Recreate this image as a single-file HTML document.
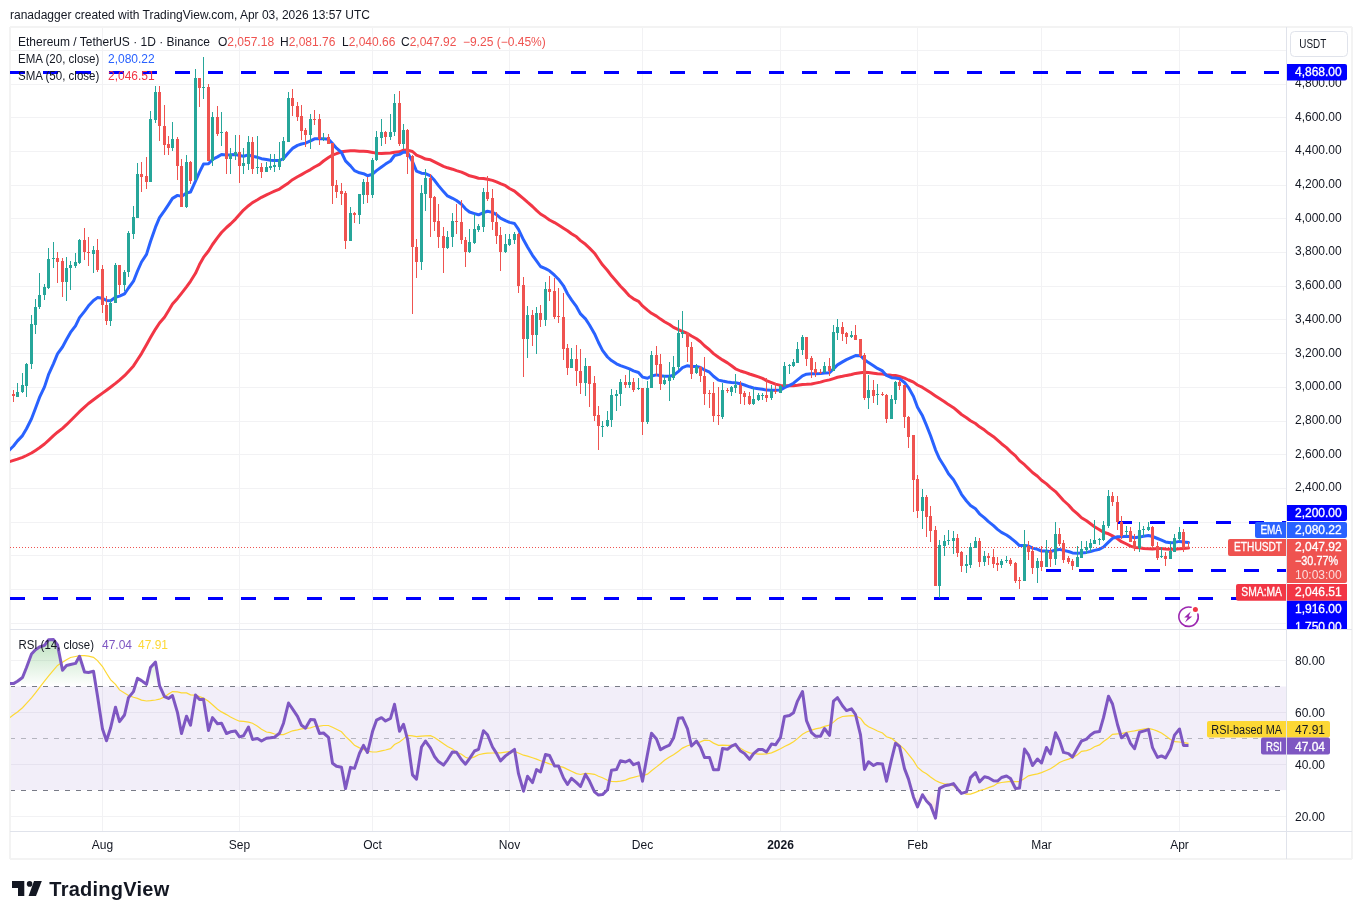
<!DOCTYPE html><html><head><meta charset="utf-8"><style>html,body{margin:0;padding:0;background:#fff;}body{width:1362px;height:919px;overflow:hidden;}svg{display:block;font-family:"Liberation Sans",sans-serif;will-change:transform;}</style></head><body><svg width="1362" height="919" viewBox="0 0 1362 919"><defs><clipPath id="mainclip"><rect x="10" y="27" width="1276" height="602"/></clipPath><clipPath id="axclip"><rect x="1287" y="27" width="65" height="602"/></clipPath><clipPath id="rsiclip"><rect x="10" y="630" width="1276" height="201"/></clipPath><linearGradient id="obg" gradientUnits="userSpaceOnUse" x1="0" y1="608.8" x2="0" y2="686.5"><stop offset="0" stop-color="#4caf50" stop-opacity="0.6"/><stop offset="1" stop-color="#4caf50" stop-opacity="0"/></linearGradient><linearGradient id="osg" gradientUnits="userSpaceOnUse" x1="0" y1="868" x2="0" y2="790.4"><stop offset="0" stop-color="#f23645" stop-opacity="0.6"/><stop offset="1" stop-color="#f23645" stop-opacity="0"/></linearGradient></defs><text x="10" y="19" font-size="12" fill="#131722">ranadagger created with TradingView.com, Apr 03, 2026 13:57 UTC</text><rect x="10" y="27" width="1342" height="832" fill="#fff"/><rect x="10" y="623" width="1276" height="1" fill="#f2f2f4"/><rect x="10" y="589" width="1276" height="1" fill="#f2f2f4"/><rect x="10" y="555" width="1276" height="1" fill="#f2f2f4"/><rect x="10" y="522" width="1276" height="1" fill="#f2f2f4"/><rect x="10" y="488" width="1276" height="1" fill="#f2f2f4"/><rect x="10" y="454" width="1276" height="1" fill="#f2f2f4"/><rect x="10" y="421" width="1276" height="1" fill="#f2f2f4"/><rect x="10" y="387" width="1276" height="1" fill="#f2f2f4"/><rect x="10" y="353" width="1276" height="1" fill="#f2f2f4"/><rect x="10" y="319" width="1276" height="1" fill="#f2f2f4"/><rect x="10" y="286" width="1276" height="1" fill="#f2f2f4"/><rect x="10" y="252" width="1276" height="1" fill="#f2f2f4"/><rect x="10" y="218" width="1276" height="1" fill="#f2f2f4"/><rect x="10" y="185" width="1276" height="1" fill="#f2f2f4"/><rect x="10" y="151" width="1276" height="1" fill="#f2f2f4"/><rect x="10" y="117" width="1276" height="1" fill="#f2f2f4"/><rect x="10" y="84" width="1276" height="1" fill="#f2f2f4"/><rect x="10" y="50" width="1276" height="1" fill="#f2f2f4"/><rect x="102" y="27" width="1" height="804" fill="#f2f2f4"/><rect x="239" y="27" width="1" height="804" fill="#f2f2f4"/><rect x="372" y="27" width="1" height="804" fill="#f2f2f4"/><rect x="509" y="27" width="1" height="804" fill="#f2f2f4"/><rect x="642" y="27" width="1" height="804" fill="#f2f2f4"/><rect x="780" y="27" width="1" height="804" fill="#f2f2f4"/><rect x="917" y="27" width="1" height="804" fill="#f2f2f4"/><rect x="1041" y="27" width="1" height="804" fill="#f2f2f4"/><rect x="1179" y="27" width="1" height="804" fill="#f2f2f4"/><rect x="10" y="816" width="1276" height="1" fill="#f2f2f4"/><rect x="10" y="764" width="1276" height="1" fill="#f2f2f4"/><rect x="10" y="712" width="1276" height="1" fill="#f2f2f4"/><rect x="10" y="660" width="1276" height="1" fill="#f2f2f4"/><rect x="10" y="686.5" width="1276" height="103.6" fill="#7e57c2" fill-opacity="0.1"/><line x1="10" y1="686.5" x2="1286" y2="686.5" stroke="#787b86" stroke-opacity="1" stroke-width="1" stroke-dasharray="5 6"/><line x1="10" y1="738.5" x2="1286" y2="738.5" stroke="#787b86" stroke-opacity="0.5" stroke-width="1" stroke-dasharray="5 6"/><line x1="10" y1="790.5" x2="1286" y2="790.5" stroke="#787b86" stroke-opacity="1" stroke-width="1" stroke-dasharray="5 6"/><g shape-rendering="crispEdges"><rect x="10" y="27" width="1342" height="832" rx="2" fill="none" stroke="#f3f3f3" stroke-width="2"/><rect x="1286" y="27" width="1" height="832" fill="#e0e3eb"/><rect x="10" y="629" width="1342" height="1" fill="#e0e3eb"/><rect x="10" y="831" width="1342" height="1" fill="#e0e3eb"/></g><g clip-path="url(#mainclip)"><polyline points="8,462.2 13.5,460.4 17.5,459.1 22.5,457.3 26.5,455.5 31.5,453.0 35.5,450.4 39.5,447.7 44.5,444.0 48.5,440.3 53.5,435.6 57.5,432.2 62.5,428.4 66.5,424.7 70.5,420.7 75.5,415.7 79.5,411.7 84.5,407.1 88.5,403.5 93.5,399.7 97.5,396.8 102.5,393.1 106.5,390.2 110.5,387.2 115.5,383.4 119.5,380.1 124.5,375.7 128.5,371.4 133.5,365.9 137.5,359.8 141.5,353.6 146.5,344.7 150.5,337.6 155.5,329.1 159.5,323.0 164.5,317.2 168.5,310.8 172.5,304.1 177.5,298.4 181.5,293.4 186.5,286.9 190.5,281.3 195.5,273.3 199.5,264.6 203.5,257.4 208.5,251.0 212.5,244.5 217.5,237.6 221.5,232.5 226.5,227.5 230.5,224.0 235.5,219.1 239.5,214.5 243.5,210.1 248.5,205.7 252.5,202.6 257.5,199.8 261.5,197.3 266.5,194.9 270.5,193.0 274.5,191.2 279.5,189.1 283.5,186.3 288.5,182.9 292.5,179.7 297.5,176.8 301.5,174.6 305.5,172.3 310.5,169.6 314.5,167.0 319.5,164.4 323.5,161.0 328.5,157.5 332.5,155.1 336.5,153.7 341.5,151.8 345.5,151.2 350.5,150.8 354.5,150.8 359.5,151.2 363.5,151.3 367.5,151.6 372.5,152.4 376.5,153.3 381.5,153.4 385.5,153.2 390.5,152.9 394.5,152.2 399.5,151.8 403.5,150.2 407.5,150.1 412.5,151.5 416.5,155.1 421.5,157.2 425.5,159.1 430.5,159.8 434.5,161.9 438.5,163.9 443.5,166.3 447.5,167.8 452.5,169.2 456.5,170.6 461.5,172.1 465.5,173.9 469.5,175.8 474.5,177.0 478.5,178.2 483.5,178.6 487.5,179.3 492.5,180.4 496.5,181.8 500.5,183.6 505.5,185.7 509.5,188.5 514.5,191.1 518.5,194.5 523.5,198.6 527.5,202.2 532.5,206.5 536.5,210.4 540.5,214.0 545.5,217.1 549.5,220.0 554.5,222.6 558.5,225.1 563.5,228.3 567.5,230.8 571.5,233.7 576.5,236.8 580.5,240.6 585.5,244.3 589.5,248.1 594.5,253.2 598.5,259.0 602.5,264.8 607.5,270.5 611.5,275.8 616.5,281.6 620.5,286.3 625.5,291.4 629.5,295.9 633.5,298.8 638.5,301.3 642.5,305.9 647.5,310.1 651.5,313.3 656.5,316.1 660.5,319.1 664.5,321.7 669.5,324.5 673.5,327.4 678.5,329.6 682.5,331.5 687.5,333.4 691.5,336.0 696.5,338.8 700.5,341.8 704.5,345.8 709.5,349.7 713.5,353.6 718.5,357.2 722.5,359.9 727.5,362.9 731.5,365.8 735.5,368.8 740.5,371.0 744.5,372.2 749.5,374.0 753.5,375.3 758.5,376.9 762.5,378.4 766.5,380.6 771.5,382.6 775.5,384.1 780.5,385.4 784.5,385.8 789.5,385.7 793.5,385.8 797.5,385.3 802.5,384.4 806.5,384.3 811.5,384.0 815.5,383.1 820.5,382.1 824.5,380.9 829.5,379.9 833.5,378.6 837.5,377.3 842.5,376.3 846.5,375.4 851.5,374.5 855.5,373.4 860.5,372.8 864.5,372.3 868.5,372.4 873.5,373.2 877.5,373.8 882.5,374.0 886.5,374.7 891.5,375.2 895.5,375.5 899.5,376.5 904.5,378.2 908.5,380.0 913.5,382.1 917.5,385.0 922.5,387.4 926.5,389.9 930.5,392.6 935.5,396.0 939.5,398.6 944.5,401.7 948.5,404.6 953.5,407.7 957.5,411.0 961.5,414.5 966.5,417.8 970.5,420.7 975.5,423.5 979.5,426.8 984.5,430.1 988.5,433.3 993.5,436.7 997.5,440.2 1001.5,443.7 1006.5,447.6 1010.5,451.6 1015.5,455.9 1019.5,460.6 1024.5,464.7 1028.5,468.6 1032.5,472.5 1037.5,476.3 1041.5,480.2 1046.5,483.9 1050.5,487.6 1055.5,491.6 1059.5,496.0 1063.5,500.5 1068.5,505.0 1072.5,509.6 1077.5,513.9 1081.5,517.8 1086.5,520.8 1090.5,523.8 1094.5,526.7 1099.5,529.7 1103.5,532.3 1108.5,533.8 1112.5,535.9 1117.5,538.7 1121.5,541.7 1126.5,544.0 1130.5,546.1 1134.5,547.4 1139.5,547.8 1143.5,548.5 1148.5,548.7 1152.5,549.0 1157.5,548.4 1161.5,548.6 1165.5,549.0 1170.5,549.2 1174.5,549.2 1179.5,548.8 1183.5,548.4 1188.5,548.1" fill="none" stroke="#f23645" stroke-width="3" stroke-linejoin="round" stroke-linecap="round"/><polyline points="8,451.5 13.5,446.0 17.5,440.9 22.5,435.6 26.5,428.7 31.5,418.8 35.5,408.2 39.5,397.4 44.5,386.9 48.5,374.7 53.5,363.6 57.5,353.9 62.5,347.0 66.5,339.5 70.5,332.4 75.5,325.8 79.5,317.6 84.5,311.4 88.5,305.8 93.5,300.5 97.5,297.6 102.5,298.3 106.5,300.5 110.5,300.7 115.5,297.3 119.5,296.1 124.5,293.8 128.5,288.0 133.5,281.2 137.5,271.0 141.5,262.0 146.5,254.4 150.5,241.5 155.5,227.2 159.5,217.6 164.5,210.6 168.5,204.6 172.5,198.4 177.5,195.4 181.5,196.4 186.5,193.1 190.5,192.0 195.5,181.1 199.5,172.2 203.5,164.1 208.5,163.8 212.5,159.4 217.5,156.9 221.5,154.5 226.5,154.9 230.5,154.8 235.5,154.5 239.5,155.6 243.5,156.2 248.5,154.9 252.5,156.3 257.5,157.3 261.5,158.7 266.5,159.5 270.5,160.2 274.5,160.6 279.5,160.5 283.5,158.6 288.5,152.8 292.5,148.4 297.5,145.4 301.5,144.0 305.5,143.1 310.5,140.9 314.5,138.8 319.5,138.8 323.5,138.7 328.5,139.2 332.5,143.6 336.5,148.2 341.5,152.5 345.5,160.9 350.5,165.9 354.5,170.6 359.5,172.8 363.5,173.7 367.5,175.7 372.5,174.2 376.5,170.6 381.5,167.0 385.5,164.1 390.5,161.0 394.5,155.5 399.5,154.4 403.5,152.1 407.5,152.5 412.5,161.6 416.5,171.1 421.5,173.2 425.5,173.6 430.5,175.9 434.5,180.3 438.5,185.6 443.5,191.6 447.5,195.9 452.5,198.3 456.5,200.5 461.5,204.3 465.5,208.8 469.5,212.0 474.5,213.6 478.5,214.8 483.5,212.6 487.5,211.3 492.5,212.4 496.5,214.6 500.5,218.1 505.5,220.6 509.5,222.4 514.5,223.5 518.5,229.4 523.5,239.8 527.5,247.0 532.5,255.3 536.5,260.8 540.5,266.5 545.5,268.6 549.5,270.8 554.5,275.2 558.5,279.2 563.5,285.8 567.5,293.7 571.5,299.9 576.5,306.7 580.5,313.9 585.5,318.9 589.5,325.0 594.5,333.7 598.5,342.5 602.5,350.4 607.5,357.0 611.5,360.6 616.5,363.8 620.5,365.6 625.5,367.4 629.5,368.8 633.5,370.8 638.5,372.5 642.5,377.1 647.5,378.2 651.5,376.0 656.5,374.9 660.5,375.8 664.5,376.2 669.5,376.2 673.5,375.3 678.5,371.3 682.5,367.6 687.5,365.7 691.5,366.5 696.5,366.5 700.5,367.4 704.5,369.9 709.5,372.2 713.5,376.3 718.5,380.1 722.5,381.0 727.5,381.9 731.5,382.4 735.5,382.7 740.5,383.7 744.5,385.0 749.5,386.8 753.5,388.0 758.5,388.7 762.5,389.3 766.5,390.1 771.5,390.2 775.5,390.3 780.5,389.9 784.5,387.6 789.5,385.4 793.5,383.2 797.5,379.9 802.5,375.9 806.5,374.2 811.5,373.8 815.5,373.7 820.5,373.6 824.5,372.9 829.5,372.7 833.5,368.9 837.5,364.9 842.5,361.9 846.5,359.6 851.5,357.3 855.5,355.6 860.5,355.7 864.5,359.7 868.5,362.6 873.5,365.7 877.5,368.4 882.5,370.9 886.5,375.4 891.5,377.7 895.5,378.1 899.5,378.8 904.5,382.5 908.5,387.6 913.5,396.4 917.5,407.3 922.5,415.8 926.5,425.4 930.5,435.5 935.5,449.8 939.5,458.8 944.5,466.7 948.5,473.7 953.5,479.8 957.5,486.8 961.5,494.3 966.5,501.0 970.5,505.4 975.5,508.8 979.5,513.8 984.5,517.9 988.5,521.7 993.5,525.7 997.5,529.4 1001.5,532.4 1006.5,535.0 1010.5,537.8 1015.5,541.9 1019.5,545.6 1024.5,545.4 1028.5,546.0 1032.5,548.1 1037.5,549.3 1041.5,551.0 1046.5,550.9 1050.5,551.7 1055.5,550.0 1059.5,549.4 1063.5,550.4 1068.5,551.5 1072.5,552.9 1077.5,553.3 1081.5,552.9 1086.5,552.4 1090.5,551.5 1094.5,550.4 1099.5,549.3 1103.5,547.0 1108.5,542.2 1112.5,538.4 1117.5,536.8 1121.5,536.7 1126.5,536.2 1130.5,536.7 1134.5,537.8 1139.5,537.1 1143.5,536.3 1148.5,535.5 1152.5,536.5 1157.5,538.5 1161.5,540.2 1165.5,541.9 1170.5,542.8 1174.5,542.4 1179.5,541.4 1183.5,542.0 1188.5,542.6" fill="none" stroke="#2962ff" stroke-width="3" stroke-linejoin="round" stroke-linecap="round"/></g><g clip-path="url(#mainclip)" shape-rendering="crispEdges"><rect x="10" y="71" width="15" height="3" fill="#0000ff"/><rect x="43" y="71" width="15" height="3" fill="#0000ff"/><rect x="76" y="71" width="15" height="3" fill="#0000ff"/><rect x="109" y="71" width="15" height="3" fill="#0000ff"/><rect x="142" y="71" width="15" height="3" fill="#0000ff"/><rect x="175" y="71" width="15" height="3" fill="#0000ff"/><rect x="208" y="71" width="15" height="3" fill="#0000ff"/><rect x="241" y="71" width="15" height="3" fill="#0000ff"/><rect x="274" y="71" width="15" height="3" fill="#0000ff"/><rect x="307" y="71" width="15" height="3" fill="#0000ff"/><rect x="340" y="71" width="15" height="3" fill="#0000ff"/><rect x="373" y="71" width="15" height="3" fill="#0000ff"/><rect x="406" y="71" width="15" height="3" fill="#0000ff"/><rect x="439" y="71" width="15" height="3" fill="#0000ff"/><rect x="472" y="71" width="15" height="3" fill="#0000ff"/><rect x="505" y="71" width="15" height="3" fill="#0000ff"/><rect x="538" y="71" width="15" height="3" fill="#0000ff"/><rect x="571" y="71" width="15" height="3" fill="#0000ff"/><rect x="604" y="71" width="15" height="3" fill="#0000ff"/><rect x="637" y="71" width="15" height="3" fill="#0000ff"/><rect x="670" y="71" width="15" height="3" fill="#0000ff"/><rect x="703" y="71" width="15" height="3" fill="#0000ff"/><rect x="736" y="71" width="15" height="3" fill="#0000ff"/><rect x="769" y="71" width="15" height="3" fill="#0000ff"/><rect x="802" y="71" width="15" height="3" fill="#0000ff"/><rect x="835" y="71" width="15" height="3" fill="#0000ff"/><rect x="868" y="71" width="15" height="3" fill="#0000ff"/><rect x="901" y="71" width="15" height="3" fill="#0000ff"/><rect x="934" y="71" width="15" height="3" fill="#0000ff"/><rect x="967" y="71" width="15" height="3" fill="#0000ff"/><rect x="1000" y="71" width="15" height="3" fill="#0000ff"/><rect x="1033" y="71" width="15" height="3" fill="#0000ff"/><rect x="1066" y="71" width="15" height="3" fill="#0000ff"/><rect x="1099" y="71" width="15" height="3" fill="#0000ff"/><rect x="1132" y="71" width="15" height="3" fill="#0000ff"/><rect x="1165" y="71" width="15" height="3" fill="#0000ff"/><rect x="1198" y="71" width="15" height="3" fill="#0000ff"/><rect x="1231" y="71" width="15" height="3" fill="#0000ff"/><rect x="1264" y="71" width="15" height="3" fill="#0000ff"/><rect x="1117" y="521" width="15" height="3" fill="#0000ff"/><rect x="1150" y="521" width="15" height="3" fill="#0000ff"/><rect x="1183" y="521" width="15" height="3" fill="#0000ff"/><rect x="1216" y="521" width="15" height="3" fill="#0000ff"/><rect x="1249" y="521" width="15" height="3" fill="#0000ff"/><rect x="1282" y="521" width="4" height="3" fill="#0000ff"/><rect x="1046" y="569" width="15" height="3" fill="#0000ff"/><rect x="1079" y="569" width="15" height="3" fill="#0000ff"/><rect x="1112" y="569" width="15" height="3" fill="#0000ff"/><rect x="1145" y="569" width="15" height="3" fill="#0000ff"/><rect x="1178" y="569" width="15" height="3" fill="#0000ff"/><rect x="1211" y="569" width="15" height="3" fill="#0000ff"/><rect x="1244" y="569" width="15" height="3" fill="#0000ff"/><rect x="1277" y="569" width="9" height="3" fill="#0000ff"/><rect x="10" y="597" width="15" height="3" fill="#0000ff"/><rect x="43" y="597" width="15" height="3" fill="#0000ff"/><rect x="76" y="597" width="15" height="3" fill="#0000ff"/><rect x="109" y="597" width="15" height="3" fill="#0000ff"/><rect x="142" y="597" width="15" height="3" fill="#0000ff"/><rect x="175" y="597" width="15" height="3" fill="#0000ff"/><rect x="208" y="597" width="15" height="3" fill="#0000ff"/><rect x="241" y="597" width="15" height="3" fill="#0000ff"/><rect x="274" y="597" width="15" height="3" fill="#0000ff"/><rect x="307" y="597" width="15" height="3" fill="#0000ff"/><rect x="340" y="597" width="15" height="3" fill="#0000ff"/><rect x="373" y="597" width="15" height="3" fill="#0000ff"/><rect x="406" y="597" width="15" height="3" fill="#0000ff"/><rect x="439" y="597" width="15" height="3" fill="#0000ff"/><rect x="472" y="597" width="15" height="3" fill="#0000ff"/><rect x="505" y="597" width="15" height="3" fill="#0000ff"/><rect x="538" y="597" width="15" height="3" fill="#0000ff"/><rect x="571" y="597" width="15" height="3" fill="#0000ff"/><rect x="604" y="597" width="15" height="3" fill="#0000ff"/><rect x="637" y="597" width="15" height="3" fill="#0000ff"/><rect x="670" y="597" width="15" height="3" fill="#0000ff"/><rect x="703" y="597" width="15" height="3" fill="#0000ff"/><rect x="736" y="597" width="15" height="3" fill="#0000ff"/><rect x="769" y="597" width="15" height="3" fill="#0000ff"/><rect x="802" y="597" width="15" height="3" fill="#0000ff"/><rect x="835" y="597" width="15" height="3" fill="#0000ff"/><rect x="868" y="597" width="15" height="3" fill="#0000ff"/><rect x="901" y="597" width="15" height="3" fill="#0000ff"/><rect x="934" y="597" width="15" height="3" fill="#0000ff"/><rect x="967" y="597" width="15" height="3" fill="#0000ff"/><rect x="1000" y="597" width="15" height="3" fill="#0000ff"/><rect x="1033" y="597" width="15" height="3" fill="#0000ff"/><rect x="1066" y="597" width="15" height="3" fill="#0000ff"/><rect x="1099" y="597" width="15" height="3" fill="#0000ff"/><rect x="1132" y="597" width="15" height="3" fill="#0000ff"/><rect x="1165" y="597" width="15" height="3" fill="#0000ff"/><rect x="1198" y="597" width="15" height="3" fill="#0000ff"/><rect x="1231" y="597" width="15" height="3" fill="#0000ff"/><rect x="1264" y="597" width="15" height="3" fill="#0000ff"/></g><line x1="10" y1="547.5" x2="1286" y2="547.5" stroke="#ef5350" stroke-width="1" stroke-dasharray="1 2" shape-rendering="crispEdges"/><g clip-path="url(#mainclip)" shape-rendering="crispEdges"><rect x="13" y="390" width="1" height="12" fill="#ef5350"/><rect x="12" y="394" width="3" height="2" fill="#ef5350"/><rect x="17" y="383" width="1" height="14" fill="#26a69a"/><rect x="16" y="392" width="3" height="5" fill="#26a69a"/><rect x="22" y="373" width="1" height="20" fill="#26a69a"/><rect x="21" y="385" width="3" height="7" fill="#26a69a"/><rect x="26" y="363" width="1" height="34" fill="#26a69a"/><rect x="25" y="364" width="3" height="22" fill="#26a69a"/><rect x="31" y="315" width="1" height="54" fill="#26a69a"/><rect x="30" y="324" width="3" height="40" fill="#26a69a"/><rect x="35" y="299" width="1" height="35" fill="#26a69a"/><rect x="34" y="307" width="3" height="18" fill="#26a69a"/><rect x="39" y="273" width="1" height="36" fill="#26a69a"/><rect x="38" y="295" width="3" height="12" fill="#26a69a"/><rect x="44" y="284" width="1" height="16" fill="#26a69a"/><rect x="43" y="287" width="3" height="8" fill="#26a69a"/><rect x="48" y="248" width="1" height="41" fill="#26a69a"/><rect x="47" y="259" width="3" height="29" fill="#26a69a"/><rect x="53" y="242" width="1" height="26" fill="#26a69a"/><rect x="52" y="258" width="3" height="1" fill="#26a69a"/><rect x="57" y="252" width="1" height="31" fill="#ef5350"/><rect x="56" y="258" width="3" height="4" fill="#ef5350"/><rect x="62" y="258" width="1" height="39" fill="#ef5350"/><rect x="61" y="261" width="3" height="21" fill="#ef5350"/><rect x="66" y="257" width="1" height="44" fill="#26a69a"/><rect x="65" y="268" width="3" height="14" fill="#26a69a"/><rect x="70" y="261" width="1" height="29" fill="#26a69a"/><rect x="69" y="265" width="3" height="3" fill="#26a69a"/><rect x="75" y="253" width="1" height="15" fill="#26a69a"/><rect x="74" y="262" width="3" height="4" fill="#26a69a"/><rect x="79" y="239" width="1" height="25" fill="#26a69a"/><rect x="78" y="240" width="3" height="23" fill="#26a69a"/><rect x="84" y="228" width="1" height="32" fill="#ef5350"/><rect x="83" y="240" width="3" height="12" fill="#ef5350"/><rect x="88" y="237" width="1" height="29" fill="#ef5350"/><rect x="87" y="252" width="3" height="1" fill="#ef5350"/><rect x="93" y="246" width="1" height="27" fill="#26a69a"/><rect x="92" y="250" width="3" height="4" fill="#26a69a"/><rect x="97" y="239" width="1" height="33" fill="#ef5350"/><rect x="96" y="250" width="3" height="20" fill="#ef5350"/><rect x="102" y="265" width="1" height="48" fill="#ef5350"/><rect x="101" y="269" width="3" height="36" fill="#ef5350"/><rect x="106" y="296" width="1" height="29" fill="#ef5350"/><rect x="105" y="305" width="3" height="16" fill="#ef5350"/><rect x="110" y="299" width="1" height="27" fill="#26a69a"/><rect x="109" y="303" width="3" height="18" fill="#26a69a"/><rect x="115" y="263" width="1" height="40" fill="#26a69a"/><rect x="114" y="265" width="3" height="38" fill="#26a69a"/><rect x="119" y="265" width="1" height="29" fill="#ef5350"/><rect x="118" y="265" width="3" height="20" fill="#ef5350"/><rect x="124" y="270" width="1" height="21" fill="#26a69a"/><rect x="123" y="272" width="3" height="13" fill="#26a69a"/><rect x="128" y="231" width="1" height="46" fill="#26a69a"/><rect x="127" y="233" width="3" height="39" fill="#26a69a"/><rect x="133" y="206" width="1" height="33" fill="#26a69a"/><rect x="132" y="217" width="3" height="17" fill="#26a69a"/><rect x="137" y="163" width="1" height="55" fill="#26a69a"/><rect x="136" y="174" width="3" height="44" fill="#26a69a"/><rect x="141" y="162" width="1" height="30" fill="#ef5350"/><rect x="140" y="174" width="3" height="3" fill="#ef5350"/><rect x="146" y="157" width="1" height="32" fill="#ef5350"/><rect x="145" y="176" width="3" height="6" fill="#ef5350"/><rect x="150" y="111" width="1" height="71" fill="#26a69a"/><rect x="149" y="119" width="3" height="63" fill="#26a69a"/><rect x="155" y="86" width="1" height="37" fill="#26a69a"/><rect x="154" y="92" width="3" height="28" fill="#26a69a"/><rect x="159" y="86" width="1" height="55" fill="#ef5350"/><rect x="158" y="92" width="3" height="34" fill="#ef5350"/><rect x="164" y="105" width="1" height="50" fill="#ef5350"/><rect x="163" y="126" width="3" height="19" fill="#ef5350"/><rect x="168" y="136" width="1" height="19" fill="#ef5350"/><rect x="167" y="144" width="3" height="4" fill="#ef5350"/><rect x="172" y="122" width="1" height="29" fill="#26a69a"/><rect x="171" y="139" width="3" height="9" fill="#26a69a"/><rect x="177" y="137" width="1" height="43" fill="#ef5350"/><rect x="176" y="139" width="3" height="27" fill="#ef5350"/><rect x="181" y="159" width="1" height="48" fill="#ef5350"/><rect x="180" y="166" width="3" height="41" fill="#ef5350"/><rect x="186" y="155" width="1" height="53" fill="#26a69a"/><rect x="185" y="162" width="3" height="45" fill="#26a69a"/><rect x="190" y="161" width="1" height="23" fill="#ef5350"/><rect x="189" y="162" width="3" height="19" fill="#ef5350"/><rect x="195" y="69" width="1" height="111" fill="#26a69a"/><rect x="194" y="78" width="3" height="102" fill="#26a69a"/><rect x="199" y="78" width="1" height="29" fill="#ef5350"/><rect x="198" y="78" width="3" height="10" fill="#ef5350"/><rect x="203" y="57" width="1" height="42" fill="#26a69a"/><rect x="202" y="87" width="3" height="1" fill="#26a69a"/><rect x="208" y="84" width="1" height="77" fill="#ef5350"/><rect x="207" y="87" width="3" height="74" fill="#ef5350"/><rect x="212" y="112" width="1" height="54" fill="#26a69a"/><rect x="211" y="117" width="3" height="44" fill="#26a69a"/><rect x="217" y="106" width="1" height="30" fill="#ef5350"/><rect x="216" y="117" width="3" height="17" fill="#ef5350"/><rect x="221" y="112" width="1" height="34" fill="#26a69a"/><rect x="220" y="132" width="3" height="1" fill="#26a69a"/><rect x="226" y="131" width="1" height="43" fill="#ef5350"/><rect x="225" y="132" width="3" height="27" fill="#ef5350"/><rect x="230" y="148" width="1" height="26" fill="#26a69a"/><rect x="229" y="154" width="3" height="5" fill="#26a69a"/><rect x="235" y="135" width="1" height="25" fill="#26a69a"/><rect x="234" y="152" width="3" height="3" fill="#26a69a"/><rect x="239" y="135" width="1" height="48" fill="#ef5350"/><rect x="238" y="152" width="3" height="14" fill="#ef5350"/><rect x="243" y="148" width="1" height="26" fill="#26a69a"/><rect x="242" y="163" width="3" height="3" fill="#26a69a"/><rect x="248" y="136" width="1" height="34" fill="#26a69a"/><rect x="247" y="142" width="3" height="22" fill="#26a69a"/><rect x="252" y="137" width="1" height="37" fill="#ef5350"/><rect x="251" y="142" width="3" height="27" fill="#ef5350"/><rect x="257" y="136" width="1" height="38" fill="#26a69a"/><rect x="256" y="167" width="3" height="1" fill="#26a69a"/><rect x="261" y="163" width="1" height="15" fill="#ef5350"/><rect x="260" y="167" width="3" height="5" fill="#ef5350"/><rect x="266" y="162" width="1" height="10" fill="#26a69a"/><rect x="265" y="167" width="3" height="5" fill="#26a69a"/><rect x="270" y="154" width="1" height="16" fill="#26a69a"/><rect x="269" y="166" width="3" height="2" fill="#26a69a"/><rect x="274" y="154" width="1" height="18" fill="#26a69a"/><rect x="273" y="165" width="3" height="2" fill="#26a69a"/><rect x="279" y="142" width="1" height="28" fill="#26a69a"/><rect x="278" y="159" width="3" height="8" fill="#26a69a"/><rect x="283" y="137" width="1" height="24" fill="#26a69a"/><rect x="282" y="141" width="3" height="19" fill="#26a69a"/><rect x="288" y="92" width="1" height="50" fill="#26a69a"/><rect x="287" y="98" width="3" height="44" fill="#26a69a"/><rect x="292" y="89" width="1" height="27" fill="#ef5350"/><rect x="291" y="98" width="3" height="8" fill="#ef5350"/><rect x="297" y="102" width="1" height="19" fill="#ef5350"/><rect x="296" y="106" width="3" height="11" fill="#ef5350"/><rect x="301" y="105" width="1" height="35" fill="#ef5350"/><rect x="300" y="116" width="3" height="15" fill="#ef5350"/><rect x="305" y="128" width="1" height="19" fill="#ef5350"/><rect x="304" y="130" width="3" height="5" fill="#ef5350"/><rect x="310" y="114" width="1" height="35" fill="#26a69a"/><rect x="309" y="119" width="3" height="16" fill="#26a69a"/><rect x="314" y="110" width="1" height="15" fill="#ef5350"/><rect x="313" y="119" width="3" height="1" fill="#ef5350"/><rect x="319" y="114" width="1" height="31" fill="#ef5350"/><rect x="318" y="119" width="3" height="20" fill="#ef5350"/><rect x="323" y="133" width="1" height="8" fill="#26a69a"/><rect x="322" y="138" width="3" height="1" fill="#26a69a"/><rect x="328" y="134" width="1" height="10" fill="#ef5350"/><rect x="327" y="137" width="3" height="7" fill="#ef5350"/><rect x="332" y="143" width="1" height="61" fill="#ef5350"/><rect x="331" y="143" width="3" height="43" fill="#ef5350"/><rect x="336" y="180" width="1" height="18" fill="#ef5350"/><rect x="335" y="185" width="3" height="7" fill="#ef5350"/><rect x="341" y="183" width="1" height="22" fill="#ef5350"/><rect x="340" y="191" width="3" height="3" fill="#ef5350"/><rect x="345" y="191" width="1" height="58" fill="#ef5350"/><rect x="344" y="193" width="3" height="48" fill="#ef5350"/><rect x="350" y="207" width="1" height="34" fill="#26a69a"/><rect x="349" y="213" width="3" height="28" fill="#26a69a"/><rect x="354" y="212" width="1" height="11" fill="#ef5350"/><rect x="353" y="213" width="3" height="2" fill="#ef5350"/><rect x="359" y="194" width="1" height="30" fill="#26a69a"/><rect x="358" y="194" width="3" height="21" fill="#26a69a"/><rect x="363" y="179" width="1" height="25" fill="#26a69a"/><rect x="362" y="182" width="3" height="13" fill="#26a69a"/><rect x="367" y="177" width="1" height="26" fill="#ef5350"/><rect x="366" y="182" width="3" height="13" fill="#ef5350"/><rect x="372" y="158" width="1" height="40" fill="#26a69a"/><rect x="371" y="160" width="3" height="35" fill="#26a69a"/><rect x="376" y="131" width="1" height="30" fill="#26a69a"/><rect x="375" y="137" width="3" height="23" fill="#26a69a"/><rect x="381" y="119" width="1" height="27" fill="#26a69a"/><rect x="380" y="132" width="3" height="6" fill="#26a69a"/><rect x="385" y="131" width="1" height="13" fill="#ef5350"/><rect x="384" y="132" width="3" height="5" fill="#ef5350"/><rect x="390" y="114" width="1" height="26" fill="#26a69a"/><rect x="389" y="132" width="3" height="5" fill="#26a69a"/><rect x="394" y="94" width="1" height="42" fill="#26a69a"/><rect x="393" y="103" width="3" height="29" fill="#26a69a"/><rect x="399" y="91" width="1" height="55" fill="#ef5350"/><rect x="398" y="103" width="3" height="41" fill="#ef5350"/><rect x="403" y="124" width="1" height="25" fill="#26a69a"/><rect x="402" y="130" width="3" height="14" fill="#26a69a"/><rect x="407" y="129" width="1" height="45" fill="#ef5350"/><rect x="406" y="130" width="3" height="27" fill="#ef5350"/><rect x="412" y="155" width="1" height="159" fill="#ef5350"/><rect x="411" y="156" width="3" height="91" fill="#ef5350"/><rect x="416" y="239" width="1" height="39" fill="#ef5350"/><rect x="415" y="247" width="3" height="15" fill="#ef5350"/><rect x="421" y="185" width="1" height="85" fill="#26a69a"/><rect x="420" y="193" width="3" height="69" fill="#26a69a"/><rect x="425" y="169" width="1" height="42" fill="#26a69a"/><rect x="424" y="178" width="3" height="16" fill="#26a69a"/><rect x="430" y="174" width="1" height="63" fill="#ef5350"/><rect x="429" y="178" width="3" height="20" fill="#ef5350"/><rect x="434" y="196" width="1" height="35" fill="#ef5350"/><rect x="433" y="197" width="3" height="25" fill="#ef5350"/><rect x="438" y="204" width="1" height="44" fill="#ef5350"/><rect x="437" y="221" width="3" height="16" fill="#ef5350"/><rect x="443" y="227" width="1" height="46" fill="#ef5350"/><rect x="442" y="236" width="3" height="12" fill="#ef5350"/><rect x="447" y="231" width="1" height="18" fill="#26a69a"/><rect x="446" y="237" width="3" height="11" fill="#26a69a"/><rect x="452" y="213" width="1" height="34" fill="#26a69a"/><rect x="451" y="221" width="3" height="16" fill="#26a69a"/><rect x="456" y="204" width="1" height="30" fill="#ef5350"/><rect x="455" y="221" width="3" height="1" fill="#ef5350"/><rect x="461" y="200" width="1" height="44" fill="#ef5350"/><rect x="460" y="222" width="3" height="18" fill="#ef5350"/><rect x="465" y="237" width="1" height="30" fill="#ef5350"/><rect x="464" y="240" width="3" height="12" fill="#ef5350"/><rect x="469" y="229" width="1" height="24" fill="#26a69a"/><rect x="468" y="242" width="3" height="10" fill="#26a69a"/><rect x="474" y="214" width="1" height="30" fill="#26a69a"/><rect x="473" y="229" width="3" height="14" fill="#26a69a"/><rect x="478" y="224" width="1" height="8" fill="#26a69a"/><rect x="477" y="226" width="3" height="4" fill="#26a69a"/><rect x="483" y="188" width="1" height="44" fill="#26a69a"/><rect x="482" y="192" width="3" height="35" fill="#26a69a"/><rect x="487" y="176" width="1" height="25" fill="#ef5350"/><rect x="486" y="192" width="3" height="7" fill="#ef5350"/><rect x="492" y="189" width="1" height="41" fill="#ef5350"/><rect x="491" y="198" width="3" height="24" fill="#ef5350"/><rect x="496" y="212" width="1" height="32" fill="#ef5350"/><rect x="495" y="222" width="3" height="14" fill="#ef5350"/><rect x="500" y="227" width="1" height="44" fill="#ef5350"/><rect x="499" y="235" width="3" height="17" fill="#ef5350"/><rect x="505" y="234" width="1" height="19" fill="#26a69a"/><rect x="504" y="244" width="3" height="8" fill="#26a69a"/><rect x="509" y="234" width="1" height="12" fill="#26a69a"/><rect x="508" y="239" width="3" height="6" fill="#26a69a"/><rect x="514" y="232" width="1" height="12" fill="#26a69a"/><rect x="513" y="234" width="3" height="6" fill="#26a69a"/><rect x="518" y="233" width="1" height="60" fill="#ef5350"/><rect x="517" y="234" width="3" height="52" fill="#ef5350"/><rect x="523" y="277" width="1" height="100" fill="#ef5350"/><rect x="522" y="285" width="3" height="54" fill="#ef5350"/><rect x="527" y="306" width="1" height="52" fill="#26a69a"/><rect x="526" y="315" width="3" height="24" fill="#26a69a"/><rect x="532" y="310" width="1" height="36" fill="#ef5350"/><rect x="531" y="315" width="3" height="20" fill="#ef5350"/><rect x="536" y="307" width="1" height="47" fill="#26a69a"/><rect x="535" y="313" width="3" height="22" fill="#26a69a"/><rect x="540" y="305" width="1" height="22" fill="#ef5350"/><rect x="539" y="313" width="3" height="7" fill="#ef5350"/><rect x="545" y="282" width="1" height="44" fill="#26a69a"/><rect x="544" y="289" width="3" height="31" fill="#26a69a"/><rect x="549" y="276" width="1" height="25" fill="#ef5350"/><rect x="548" y="289" width="3" height="3" fill="#ef5350"/><rect x="554" y="278" width="1" height="41" fill="#ef5350"/><rect x="553" y="291" width="3" height="26" fill="#ef5350"/><rect x="558" y="288" width="1" height="35" fill="#ef5350"/><rect x="557" y="316" width="3" height="1" fill="#ef5350"/><rect x="563" y="293" width="1" height="67" fill="#ef5350"/><rect x="562" y="317" width="3" height="32" fill="#ef5350"/><rect x="567" y="344" width="1" height="31" fill="#ef5350"/><rect x="566" y="348" width="3" height="20" fill="#ef5350"/><rect x="571" y="348" width="1" height="20" fill="#26a69a"/><rect x="570" y="359" width="3" height="9" fill="#26a69a"/><rect x="576" y="345" width="1" height="41" fill="#ef5350"/><rect x="575" y="359" width="3" height="12" fill="#ef5350"/><rect x="580" y="349" width="1" height="45" fill="#ef5350"/><rect x="579" y="371" width="3" height="12" fill="#ef5350"/><rect x="585" y="358" width="1" height="38" fill="#26a69a"/><rect x="584" y="366" width="3" height="17" fill="#26a69a"/><rect x="589" y="366" width="1" height="41" fill="#ef5350"/><rect x="588" y="366" width="3" height="18" fill="#ef5350"/><rect x="594" y="376" width="1" height="45" fill="#ef5350"/><rect x="593" y="383" width="3" height="33" fill="#ef5350"/><rect x="598" y="406" width="1" height="44" fill="#ef5350"/><rect x="597" y="415" width="3" height="11" fill="#ef5350"/><rect x="602" y="421" width="1" height="16" fill="#26a69a"/><rect x="601" y="426" width="3" height="1" fill="#26a69a"/><rect x="607" y="411" width="1" height="16" fill="#26a69a"/><rect x="606" y="420" width="3" height="6" fill="#26a69a"/><rect x="611" y="389" width="1" height="38" fill="#26a69a"/><rect x="610" y="395" width="3" height="25" fill="#26a69a"/><rect x="616" y="390" width="1" height="21" fill="#26a69a"/><rect x="615" y="394" width="3" height="2" fill="#26a69a"/><rect x="620" y="379" width="1" height="27" fill="#26a69a"/><rect x="619" y="382" width="3" height="12" fill="#26a69a"/><rect x="625" y="375" width="1" height="13" fill="#ef5350"/><rect x="624" y="382" width="3" height="3" fill="#ef5350"/><rect x="629" y="370" width="1" height="18" fill="#26a69a"/><rect x="628" y="382" width="3" height="3" fill="#26a69a"/><rect x="633" y="378" width="1" height="14" fill="#ef5350"/><rect x="632" y="382" width="3" height="8" fill="#ef5350"/><rect x="638" y="378" width="1" height="12" fill="#26a69a"/><rect x="637" y="388" width="3" height="1" fill="#26a69a"/><rect x="642" y="388" width="1" height="47" fill="#ef5350"/><rect x="641" y="388" width="3" height="34" fill="#ef5350"/><rect x="647" y="381" width="1" height="43" fill="#26a69a"/><rect x="646" y="388" width="3" height="34" fill="#26a69a"/><rect x="651" y="351" width="1" height="37" fill="#26a69a"/><rect x="650" y="355" width="3" height="33" fill="#26a69a"/><rect x="656" y="346" width="1" height="30" fill="#ef5350"/><rect x="655" y="355" width="3" height="10" fill="#ef5350"/><rect x="660" y="354" width="1" height="36" fill="#ef5350"/><rect x="659" y="364" width="3" height="20" fill="#ef5350"/><rect x="664" y="375" width="1" height="10" fill="#26a69a"/><rect x="663" y="380" width="3" height="4" fill="#26a69a"/><rect x="669" y="362" width="1" height="39" fill="#26a69a"/><rect x="668" y="377" width="3" height="4" fill="#26a69a"/><rect x="673" y="356" width="1" height="24" fill="#26a69a"/><rect x="672" y="367" width="3" height="11" fill="#26a69a"/><rect x="678" y="320" width="1" height="50" fill="#26a69a"/><rect x="677" y="333" width="3" height="34" fill="#26a69a"/><rect x="682" y="311" width="1" height="27" fill="#26a69a"/><rect x="681" y="332" width="3" height="2" fill="#26a69a"/><rect x="687" y="332" width="1" height="30" fill="#ef5350"/><rect x="686" y="333" width="3" height="14" fill="#ef5350"/><rect x="691" y="342" width="1" height="37" fill="#ef5350"/><rect x="690" y="347" width="3" height="27" fill="#ef5350"/><rect x="696" y="364" width="1" height="10" fill="#26a69a"/><rect x="695" y="367" width="3" height="6" fill="#26a69a"/><rect x="700" y="366" width="1" height="16" fill="#ef5350"/><rect x="699" y="367" width="3" height="9" fill="#ef5350"/><rect x="704" y="357" width="1" height="48" fill="#ef5350"/><rect x="703" y="376" width="3" height="18" fill="#ef5350"/><rect x="709" y="390" width="1" height="18" fill="#ef5350"/><rect x="708" y="393" width="3" height="1" fill="#ef5350"/><rect x="713" y="382" width="1" height="40" fill="#ef5350"/><rect x="712" y="393" width="3" height="23" fill="#ef5350"/><rect x="718" y="387" width="1" height="38" fill="#ef5350"/><rect x="717" y="415" width="3" height="1" fill="#ef5350"/><rect x="722" y="383" width="1" height="36" fill="#26a69a"/><rect x="721" y="390" width="3" height="27" fill="#26a69a"/><rect x="727" y="388" width="1" height="5" fill="#ef5350"/><rect x="726" y="390" width="3" height="1" fill="#ef5350"/><rect x="731" y="386" width="1" height="10" fill="#26a69a"/><rect x="730" y="387" width="3" height="5" fill="#26a69a"/><rect x="735" y="374" width="1" height="19" fill="#26a69a"/><rect x="734" y="385" width="3" height="3" fill="#26a69a"/><rect x="740" y="381" width="1" height="23" fill="#ef5350"/><rect x="739" y="385" width="3" height="9" fill="#ef5350"/><rect x="744" y="391" width="1" height="14" fill="#ef5350"/><rect x="743" y="393" width="3" height="4" fill="#ef5350"/><rect x="749" y="392" width="1" height="13" fill="#ef5350"/><rect x="748" y="396" width="3" height="8" fill="#ef5350"/><rect x="753" y="388" width="1" height="17" fill="#26a69a"/><rect x="752" y="399" width="3" height="5" fill="#26a69a"/><rect x="758" y="393" width="1" height="8" fill="#26a69a"/><rect x="757" y="395" width="3" height="5" fill="#26a69a"/><rect x="762" y="393" width="1" height="7" fill="#26a69a"/><rect x="761" y="395" width="3" height="1" fill="#26a69a"/><rect x="766" y="378" width="1" height="24" fill="#ef5350"/><rect x="765" y="395" width="3" height="3" fill="#ef5350"/><rect x="771" y="385" width="1" height="15" fill="#26a69a"/><rect x="770" y="391" width="3" height="7" fill="#26a69a"/><rect x="775" y="383" width="1" height="11" fill="#ef5350"/><rect x="774" y="391" width="3" height="1" fill="#ef5350"/><rect x="780" y="385" width="1" height="8" fill="#26a69a"/><rect x="779" y="386" width="3" height="7" fill="#26a69a"/><rect x="784" y="362" width="1" height="25" fill="#26a69a"/><rect x="783" y="366" width="3" height="20" fill="#26a69a"/><rect x="789" y="364" width="1" height="10" fill="#26a69a"/><rect x="788" y="365" width="3" height="1" fill="#26a69a"/><rect x="793" y="359" width="1" height="8" fill="#26a69a"/><rect x="792" y="362" width="3" height="4" fill="#26a69a"/><rect x="797" y="342" width="1" height="21" fill="#26a69a"/><rect x="796" y="349" width="3" height="14" fill="#26a69a"/><rect x="802" y="335" width="1" height="20" fill="#26a69a"/><rect x="801" y="337" width="3" height="13" fill="#26a69a"/><rect x="806" y="337" width="1" height="29" fill="#ef5350"/><rect x="805" y="337" width="3" height="22" fill="#ef5350"/><rect x="811" y="356" width="1" height="22" fill="#ef5350"/><rect x="810" y="358" width="3" height="12" fill="#ef5350"/><rect x="815" y="362" width="1" height="15" fill="#ef5350"/><rect x="814" y="369" width="3" height="4" fill="#ef5350"/><rect x="820" y="369" width="1" height="5" fill="#ef5350"/><rect x="819" y="372" width="3" height="1" fill="#ef5350"/><rect x="824" y="362" width="1" height="11" fill="#26a69a"/><rect x="823" y="366" width="3" height="6" fill="#26a69a"/><rect x="829" y="358" width="1" height="18" fill="#ef5350"/><rect x="828" y="366" width="3" height="5" fill="#ef5350"/><rect x="833" y="325" width="1" height="46" fill="#26a69a"/><rect x="832" y="332" width="3" height="39" fill="#26a69a"/><rect x="837" y="319" width="1" height="21" fill="#26a69a"/><rect x="836" y="327" width="3" height="6" fill="#26a69a"/><rect x="842" y="322" width="1" height="19" fill="#ef5350"/><rect x="841" y="327" width="3" height="7" fill="#ef5350"/><rect x="846" y="332" width="1" height="12" fill="#ef5350"/><rect x="845" y="333" width="3" height="4" fill="#ef5350"/><rect x="851" y="331" width="1" height="7" fill="#26a69a"/><rect x="850" y="335" width="3" height="2" fill="#26a69a"/><rect x="855" y="325" width="1" height="15" fill="#ef5350"/><rect x="854" y="335" width="3" height="5" fill="#ef5350"/><rect x="860" y="339" width="1" height="19" fill="#ef5350"/><rect x="859" y="339" width="3" height="17" fill="#ef5350"/><rect x="864" y="353" width="1" height="47" fill="#ef5350"/><rect x="863" y="355" width="3" height="43" fill="#ef5350"/><rect x="868" y="375" width="1" height="34" fill="#26a69a"/><rect x="867" y="390" width="3" height="8" fill="#26a69a"/><rect x="873" y="380" width="1" height="23" fill="#ef5350"/><rect x="872" y="390" width="3" height="6" fill="#ef5350"/><rect x="877" y="384" width="1" height="21" fill="#26a69a"/><rect x="876" y="394" width="3" height="1" fill="#26a69a"/><rect x="882" y="392" width="1" height="4" fill="#ef5350"/><rect x="881" y="394" width="3" height="1" fill="#ef5350"/><rect x="886" y="394" width="1" height="29" fill="#ef5350"/><rect x="885" y="395" width="3" height="24" fill="#ef5350"/><rect x="891" y="395" width="1" height="24" fill="#26a69a"/><rect x="890" y="399" width="3" height="20" fill="#26a69a"/><rect x="895" y="381" width="1" height="23" fill="#26a69a"/><rect x="894" y="382" width="3" height="18" fill="#26a69a"/><rect x="899" y="380" width="1" height="10" fill="#ef5350"/><rect x="898" y="382" width="3" height="4" fill="#ef5350"/><rect x="904" y="385" width="1" height="43" fill="#ef5350"/><rect x="903" y="385" width="3" height="32" fill="#ef5350"/><rect x="908" y="416" width="1" height="32" fill="#ef5350"/><rect x="907" y="417" width="3" height="20" fill="#ef5350"/><rect x="913" y="435" width="1" height="77" fill="#ef5350"/><rect x="912" y="435" width="3" height="45" fill="#ef5350"/><rect x="917" y="475" width="1" height="43" fill="#ef5350"/><rect x="916" y="479" width="3" height="32" fill="#ef5350"/><rect x="922" y="489" width="1" height="40" fill="#26a69a"/><rect x="921" y="497" width="3" height="14" fill="#26a69a"/><rect x="926" y="495" width="1" height="42" fill="#ef5350"/><rect x="925" y="497" width="3" height="20" fill="#ef5350"/><rect x="930" y="506" width="1" height="36" fill="#ef5350"/><rect x="929" y="516" width="3" height="15" fill="#ef5350"/><rect x="935" y="526" width="1" height="60" fill="#ef5350"/><rect x="934" y="530" width="3" height="56" fill="#ef5350"/><rect x="939" y="540" width="1" height="58" fill="#26a69a"/><rect x="938" y="545" width="3" height="41" fill="#26a69a"/><rect x="944" y="535" width="1" height="21" fill="#26a69a"/><rect x="943" y="541" width="3" height="5" fill="#26a69a"/><rect x="948" y="530" width="1" height="15" fill="#26a69a"/><rect x="947" y="540" width="3" height="1" fill="#26a69a"/><rect x="953" y="531" width="1" height="23" fill="#26a69a"/><rect x="952" y="538" width="3" height="3" fill="#26a69a"/><rect x="957" y="534" width="1" height="23" fill="#ef5350"/><rect x="956" y="538" width="3" height="15" fill="#ef5350"/><rect x="961" y="551" width="1" height="21" fill="#ef5350"/><rect x="960" y="552" width="3" height="14" fill="#ef5350"/><rect x="966" y="555" width="1" height="18" fill="#26a69a"/><rect x="965" y="564" width="3" height="2" fill="#26a69a"/><rect x="970" y="543" width="1" height="25" fill="#26a69a"/><rect x="969" y="547" width="3" height="18" fill="#26a69a"/><rect x="975" y="537" width="1" height="11" fill="#26a69a"/><rect x="974" y="541" width="3" height="7" fill="#26a69a"/><rect x="979" y="538" width="1" height="29" fill="#ef5350"/><rect x="978" y="541" width="3" height="21" fill="#ef5350"/><rect x="984" y="551" width="1" height="15" fill="#26a69a"/><rect x="983" y="556" width="3" height="6" fill="#26a69a"/><rect x="988" y="553" width="1" height="12" fill="#ef5350"/><rect x="987" y="556" width="3" height="2" fill="#ef5350"/><rect x="993" y="549" width="1" height="19" fill="#ef5350"/><rect x="992" y="557" width="3" height="7" fill="#ef5350"/><rect x="997" y="557" width="1" height="14" fill="#ef5350"/><rect x="996" y="563" width="3" height="2" fill="#ef5350"/><rect x="1001" y="559" width="1" height="9" fill="#26a69a"/><rect x="1000" y="561" width="3" height="4" fill="#26a69a"/><rect x="1006" y="556" width="1" height="7" fill="#26a69a"/><rect x="1005" y="560" width="3" height="1" fill="#26a69a"/><rect x="1010" y="558" width="1" height="8" fill="#ef5350"/><rect x="1009" y="560" width="3" height="4" fill="#ef5350"/><rect x="1015" y="562" width="1" height="21" fill="#ef5350"/><rect x="1014" y="563" width="3" height="18" fill="#ef5350"/><rect x="1019" y="577" width="1" height="12" fill="#ef5350"/><rect x="1018" y="580" width="3" height="1" fill="#ef5350"/><rect x="1024" y="530" width="1" height="51" fill="#26a69a"/><rect x="1023" y="544" width="3" height="37" fill="#26a69a"/><rect x="1028" y="541" width="1" height="19" fill="#ef5350"/><rect x="1027" y="546" width="3" height="6" fill="#ef5350"/><rect x="1032" y="546" width="1" height="28" fill="#ef5350"/><rect x="1031" y="551" width="3" height="17" fill="#ef5350"/><rect x="1037" y="558" width="1" height="25" fill="#26a69a"/><rect x="1036" y="561" width="3" height="7" fill="#26a69a"/><rect x="1041" y="546" width="1" height="25" fill="#ef5350"/><rect x="1040" y="561" width="3" height="6" fill="#ef5350"/><rect x="1046" y="540" width="1" height="27" fill="#26a69a"/><rect x="1045" y="551" width="3" height="16" fill="#26a69a"/><rect x="1050" y="548" width="1" height="19" fill="#ef5350"/><rect x="1049" y="551" width="3" height="8" fill="#ef5350"/><rect x="1055" y="522" width="1" height="43" fill="#26a69a"/><rect x="1054" y="534" width="3" height="25" fill="#26a69a"/><rect x="1059" y="528" width="1" height="18" fill="#ef5350"/><rect x="1058" y="534" width="3" height="10" fill="#ef5350"/><rect x="1063" y="540" width="1" height="23" fill="#ef5350"/><rect x="1062" y="543" width="3" height="17" fill="#ef5350"/><rect x="1068" y="556" width="1" height="8" fill="#ef5350"/><rect x="1067" y="558" width="3" height="4" fill="#ef5350"/><rect x="1072" y="559" width="1" height="11" fill="#ef5350"/><rect x="1071" y="561" width="3" height="5" fill="#ef5350"/><rect x="1077" y="546" width="1" height="21" fill="#26a69a"/><rect x="1076" y="557" width="3" height="10" fill="#26a69a"/><rect x="1081" y="541" width="1" height="17" fill="#26a69a"/><rect x="1080" y="549" width="3" height="9" fill="#26a69a"/><rect x="1086" y="541" width="1" height="13" fill="#26a69a"/><rect x="1085" y="547" width="3" height="3" fill="#26a69a"/><rect x="1090" y="539" width="1" height="13" fill="#26a69a"/><rect x="1089" y="543" width="3" height="5" fill="#26a69a"/><rect x="1094" y="520" width="1" height="24" fill="#26a69a"/><rect x="1093" y="540" width="3" height="4" fill="#26a69a"/><rect x="1099" y="538" width="1" height="7" fill="#26a69a"/><rect x="1098" y="539" width="3" height="1" fill="#26a69a"/><rect x="1103" y="521" width="1" height="20" fill="#26a69a"/><rect x="1102" y="525" width="3" height="15" fill="#26a69a"/><rect x="1108" y="490" width="1" height="38" fill="#26a69a"/><rect x="1107" y="496" width="3" height="30" fill="#26a69a"/><rect x="1112" y="492" width="1" height="14" fill="#ef5350"/><rect x="1111" y="496" width="3" height="6" fill="#ef5350"/><rect x="1117" y="496" width="1" height="34" fill="#ef5350"/><rect x="1116" y="502" width="3" height="20" fill="#ef5350"/><rect x="1121" y="516" width="1" height="23" fill="#ef5350"/><rect x="1120" y="522" width="3" height="14" fill="#ef5350"/><rect x="1126" y="526" width="1" height="10" fill="#26a69a"/><rect x="1125" y="531" width="3" height="1" fill="#26a69a"/><rect x="1130" y="527" width="1" height="15" fill="#ef5350"/><rect x="1129" y="531" width="3" height="11" fill="#ef5350"/><rect x="1134" y="534" width="1" height="17" fill="#ef5350"/><rect x="1133" y="541" width="3" height="7" fill="#ef5350"/><rect x="1139" y="522" width="1" height="30" fill="#26a69a"/><rect x="1138" y="530" width="3" height="18" fill="#26a69a"/><rect x="1143" y="526" width="1" height="11" fill="#26a69a"/><rect x="1142" y="529" width="3" height="1" fill="#26a69a"/><rect x="1148" y="522" width="1" height="9" fill="#26a69a"/><rect x="1147" y="527" width="3" height="3" fill="#26a69a"/><rect x="1152" y="526" width="1" height="23" fill="#ef5350"/><rect x="1151" y="527" width="3" height="19" fill="#ef5350"/><rect x="1157" y="542" width="1" height="18" fill="#ef5350"/><rect x="1156" y="546" width="3" height="12" fill="#ef5350"/><rect x="1161" y="547" width="1" height="11" fill="#26a69a"/><rect x="1160" y="556" width="3" height="1" fill="#26a69a"/><rect x="1165" y="552" width="1" height="14" fill="#ef5350"/><rect x="1164" y="556" width="3" height="3" fill="#ef5350"/><rect x="1170" y="541" width="1" height="18" fill="#26a69a"/><rect x="1169" y="551" width="3" height="8" fill="#26a69a"/><rect x="1174" y="534" width="1" height="18" fill="#26a69a"/><rect x="1173" y="538" width="3" height="14" fill="#26a69a"/><rect x="1179" y="527" width="1" height="14" fill="#26a69a"/><rect x="1178" y="532" width="3" height="7" fill="#26a69a"/><rect x="1183" y="529" width="1" height="23" fill="#ef5350"/><rect x="1182" y="532" width="3" height="16" fill="#ef5350"/><rect x="1188" y="542" width="1" height="6" fill="#ef5350"/><rect x="1187" y="547" width="3" height="1" fill="#ef5350"/></g><g clip-path="url(#rsiclip)"><polygon points="10.0,683.5 13.5,683.6 17.5,681.3 22.5,677.5 26.5,667.5 31.5,654.1 35.5,649.8 39.5,647.0 44.5,645.3 48.5,639.8 53.5,639.6 57.5,644.9 62.5,670.2 66.5,665.5 70.5,664.5 75.5,663.4 79.5,656.2 84.5,672.0 88.5,672.5 93.5,671.3 96.0,686.5" fill="url(#obg)"/><polygon points="135.0,686.5 137.5,678.2 141.5,680.6 146.5,684.3 150.5,667.5 155.5,662.0 159.5,685.6 159.9,686.5" fill="url(#obg)"/><polygon points="523.2,790.1 523.5,791.2 523.8,790.1" fill="url(#osg)"/><polygon points="593.7,790.1 594.5,791.8 598.5,795.1 602.5,794.6 607.1,790.1" fill="url(#osg)"/><polygon points="911.5,790.1 913.5,797.2 917.5,806.9 922.5,794.7 926.5,801.0 930.5,805.1 935.5,818.1 939.3,790.1" fill="url(#osg)"/><polygon points="958.6,790.1 961.5,793.4 966.5,791.9 967.0,790.1" fill="url(#osg)"/><polyline points="10,717.5 13.5,714.8 17.5,712.0 22.5,707.7 26.5,703.3 31.5,697.8 35.5,692.9 39.5,687.7 44.5,681.1 48.5,676.2 53.5,670.2 57.5,665.4 62.5,662.2 66.5,659.8 70.5,657.5 75.5,656.5 79.5,655.7 84.5,655.7 88.5,656.1 93.5,657.3 97.5,660.6 102.5,666.5 106.5,673.3 110.5,679.6 115.5,684.4 119.5,689.9 124.5,693.1 128.5,695.4 133.5,697.3 137.5,698.4 141.5,700.1 146.5,701.0 150.5,700.7 155.5,700.0 159.5,699.2 164.5,696.9 168.5,693.9 172.5,691.6 177.5,691.9 181.5,692.8 186.5,692.9 190.5,694.9 195.5,695.1 199.5,696.6 203.5,698.0 208.5,701.3 212.5,704.8 217.5,709.3 221.5,711.9 226.5,714.6 230.5,717.0 235.5,719.5 239.5,721.2 243.5,721.4 248.5,722.2 252.5,723.2 257.5,726.3 261.5,729.2 266.5,732.0 270.5,732.6 274.5,734.0 279.5,734.6 283.5,734.6 288.5,732.5 292.5,730.8 297.5,729.8 301.5,728.9 305.5,728.4 310.5,727.9 314.5,726.5 319.5,726.1 323.5,725.5 328.5,725.5 332.5,727.3 336.5,729.3 341.5,731.8 345.5,736.4 350.5,741.0 354.5,745.3 359.5,747.9 363.5,749.4 367.5,751.1 372.5,752.0 376.5,752.0 381.5,750.9 385.5,750.0 390.5,748.7 394.5,744.5 399.5,742.0 403.5,738.9 407.5,735.4 412.5,735.9 416.5,736.7 421.5,736.2 425.5,735.9 430.5,735.6 434.5,737.4 438.5,740.3 443.5,743.7 447.5,746.5 452.5,748.9 456.5,752.3 461.5,754.3 465.5,757.2 469.5,758.6 474.5,756.9 478.5,754.7 483.5,753.6 487.5,753.1 492.5,753.0 496.5,752.8 500.5,752.8 505.5,752.1 509.5,751.6 514.5,751.4 518.5,753.0 523.5,755.2 527.5,756.1 532.5,757.8 536.5,759.1 540.5,760.7 545.5,762.4 549.5,763.9 554.5,765.3 558.5,766.2 563.5,767.4 567.5,769.4 571.5,771.2 576.5,773.6 580.5,774.5 585.5,773.3 589.5,773.7 594.5,774.3 598.5,776.2 602.5,777.8 607.5,780.3 611.5,781.3 616.5,781.6 620.5,781.2 625.5,780.1 629.5,778.4 633.5,777.4 638.5,776.0 642.5,775.6 647.5,774.1 651.5,770.7 656.5,766.9 660.5,763.7 664.5,760.3 669.5,757.1 673.5,754.8 678.5,751.2 682.5,748.1 687.5,745.7 691.5,744.7 696.5,743.0 700.5,741.9 704.5,740.2 709.5,740.5 713.5,743.1 718.5,745.3 722.5,745.2 727.5,745.3 731.5,745.4 735.5,745.8 740.5,748.2 744.5,750.7 749.5,752.9 753.5,753.5 758.5,754.1 762.5,754.2 766.5,753.8 771.5,752.9 775.5,751.1 780.5,748.8 784.5,746.5 789.5,744.1 793.5,741.7 797.5,738.6 802.5,734.3 806.5,732.0 811.5,730.1 815.5,728.9 820.5,727.9 824.5,726.4 829.5,725.2 833.5,722.1 837.5,718.8 842.5,716.5 846.5,716.1 851.5,715.6 855.5,715.8 860.5,718.2 864.5,723.7 868.5,726.7 873.5,729.0 877.5,731.0 882.5,733.0 886.5,736.7 891.5,738.4 895.5,741.5 899.5,744.9 904.5,749.4 908.5,754.3 913.5,760.6 917.5,767.2 922.5,771.5 926.5,773.8 930.5,776.9 935.5,780.6 939.5,782.4 944.5,784.0 948.5,784.2 953.5,785.9 957.5,789.2 961.5,792.6 966.5,794.2 970.5,794.1 975.5,792.4 979.5,790.6 984.5,789.3 988.5,787.6 993.5,785.9 997.5,783.3 1001.5,782.5 1006.5,781.8 1010.5,781.3 1015.5,781.6 1019.5,781.6 1024.5,778.4 1028.5,775.8 1032.5,774.9 1037.5,773.9 1041.5,772.6 1046.5,770.5 1050.5,768.8 1055.5,765.4 1059.5,762.5 1063.5,760.7 1068.5,759.1 1072.5,757.6 1077.5,754.7 1081.5,751.3 1086.5,750.6 1090.5,749.2 1094.5,746.8 1099.5,744.9 1103.5,741.6 1108.5,738.0 1112.5,734.4 1117.5,733.8 1121.5,733.6 1126.5,732.3 1130.5,731.5 1134.5,730.9 1139.5,729.8 1143.5,729.1 1148.5,728.4 1152.5,729.3 1157.5,731.1 1161.5,732.9 1165.5,735.7 1170.5,739.5 1174.5,741.7 1179.5,742.0 1183.5,742.6 1188.5,743.4" fill="none" stroke="#fdd835" stroke-width="1.2"/><polyline points="10.0,683.5 13.5,683.6 17.5,681.3 22.5,677.5 26.5,667.5 31.5,654.1 35.5,649.8 39.5,647.0 44.5,645.3 48.5,639.8 53.5,639.6 57.5,644.9 62.5,670.2 66.5,665.5 70.5,664.5 75.5,663.4 79.5,656.2 84.5,672.0 88.5,672.5 93.5,671.3 97.5,696.0 102.5,729.1 106.5,740.8 110.5,728.3 115.5,707.2 119.5,721.6 124.5,715.0 128.5,697.6 133.5,691.6 137.5,678.2 141.5,680.6 146.5,684.3 150.5,667.5 155.5,662.0 159.5,685.6 164.5,696.6 168.5,698.4 172.5,695.6 177.5,712.6 181.5,733.5 186.5,716.2 190.5,725.2 195.5,695.1 199.5,699.5 203.5,699.3 208.5,730.5 212.5,717.6 217.5,723.8 221.5,723.2 226.5,733.5 230.5,731.8 235.5,731.1 239.5,736.9 243.5,735.7 248.5,727.1 252.5,739.4 257.5,738.5 261.5,741.0 266.5,738.3 270.5,737.8 274.5,737.2 279.5,733.3 283.5,723.2 288.5,703.0 292.5,708.9 297.5,716.4 301.5,725.3 305.5,728.2 310.5,719.4 314.5,719.7 319.5,733.6 323.5,733.0 328.5,737.3 332.5,763.2 336.5,766.3 341.5,767.3 345.5,788.6 350.5,767.4 354.5,768.4 359.5,753.3 363.5,745.4 367.5,752.5 372.5,731.6 376.5,720.2 381.5,717.7 385.5,721.0 390.5,718.4 394.5,704.3 399.5,731.3 403.5,724.2 407.5,739.3 412.5,774.9 416.5,779.1 421.5,747.0 425.5,741.1 430.5,748.2 434.5,756.5 438.5,761.6 443.5,765.1 447.5,759.8 452.5,751.9 456.5,752.2 461.5,759.8 465.5,764.2 469.5,758.6 474.5,751.0 478.5,749.3 483.5,730.7 487.5,734.7 492.5,747.0 496.5,753.4 500.5,760.9 505.5,755.9 509.5,752.9 514.5,749.4 518.5,773.7 523.5,791.2 527.5,776.3 532.5,782.6 536.5,769.6 540.5,772.0 545.5,754.5 549.5,755.5 554.5,765.9 558.5,765.9 563.5,778.0 567.5,784.5 571.5,778.3 576.5,782.6 580.5,786.5 585.5,774.4 589.5,781.1 594.5,791.8 598.5,795.1 602.5,794.6 607.5,789.7 611.5,770.3 616.5,769.6 620.5,760.7 625.5,762.0 629.5,760.1 633.5,764.7 638.5,762.9 642.5,781.2 647.5,753.9 651.5,733.2 656.5,738.9 660.5,749.8 664.5,747.4 669.5,745.1 673.5,738.1 678.5,718.2 682.5,717.7 687.5,728.8 691.5,746.0 696.5,741.1 700.5,747.2 704.5,757.4 709.5,757.4 713.5,769.7 718.5,769.7 722.5,748.6 727.5,749.2 731.5,746.1 735.5,744.4 740.5,751.1 744.5,753.6 749.5,759.3 753.5,753.7 758.5,749.5 762.5,749.5 766.5,752.0 771.5,744.1 775.5,744.8 780.5,737.3 784.5,716.4 789.5,715.5 793.5,712.7 797.5,701.1 802.5,691.5 806.5,720.7 811.5,732.7 815.5,736.2 820.5,736.2 824.5,728.5 829.5,735.4 833.5,701.1 837.5,697.7 842.5,705.8 846.5,710.6 851.5,708.8 855.5,714.5 860.5,734.8 864.5,769.4 868.5,761.8 873.5,765.5 877.5,763.4 882.5,764.1 886.5,781.2 891.5,759.5 895.5,743.3 899.5,746.4 904.5,768.6 908.5,779.1 913.5,797.2 917.5,806.9 922.5,794.7 926.5,801.0 930.5,805.1 935.5,818.1 939.5,788.4 944.5,785.8 948.5,785.1 953.5,783.6 957.5,788.9 961.5,793.4 966.5,791.9 970.5,777.6 975.5,772.6 979.5,781.9 984.5,776.8 988.5,777.7 993.5,780.7 997.5,781.1 1001.5,777.5 1006.5,776.0 1010.5,778.5 1015.5,788.5 1019.5,788.1 1024.5,749.1 1028.5,754.8 1032.5,765.5 1037.5,759.0 1041.5,763.0 1046.5,747.5 1050.5,753.9 1055.5,732.8 1059.5,740.6 1063.5,752.4 1068.5,753.6 1072.5,757.1 1077.5,748.1 1081.5,741.0 1086.5,739.1 1090.5,735.0 1094.5,732.3 1099.5,731.6 1103.5,717.7 1108.5,696.2 1112.5,704.0 1117.5,724.5 1121.5,737.8 1126.5,733.7 1130.5,743.4 1134.5,748.7 1139.5,732.3 1143.5,731.1 1148.5,729.6 1152.5,747.6 1157.5,757.4 1161.5,755.9 1165.5,757.9 1170.5,749.1 1174.5,735.1 1179.5,729.0 1183.5,745.5 1188.5,745.5" fill="none" stroke="#7e57c2" stroke-width="3" stroke-linejoin="round"/></g><g font-size="12" fill="#131722"><text x="18" y="46">Ethereum / TetherUS · 1D · Binance</text><text x="218" y="46">O<tspan fill="#ef5350">2,057.18</tspan></text><text x="280" y="46">H<tspan fill="#ef5350">2,081.76</tspan></text><text x="342" y="46">L<tspan fill="#ef5350">2,040.66</tspan></text><text x="401" y="46">C<tspan fill="#ef5350">2,047.92</tspan></text><text x="463" y="46" fill="#ef5350">−9.25 (−0.45%)</text><text x="18" y="63" textLength="81.3" lengthAdjust="spacingAndGlyphs">EMA (20, close)</text><text x="108" y="63" fill="#2962ff">2,080.22</text><text x="18" y="80" textLength="81.3" lengthAdjust="spacingAndGlyphs">SMA (50, close)</text><text x="108" y="80" fill="#f23645">2,046.51</text><text x="18.4" y="649" textLength="75.6" lengthAdjust="spacingAndGlyphs">RSI (14, close)</text><text x="102" y="649" fill="#7e57c2">47.04</text><text x="138" y="649" fill="#fdd835">47.91</text></g><g font-size="12" fill="#131722"><text x="1295" y="491">2,400.00</text><text x="1295" y="458">2,600.00</text><text x="1295" y="424">2,800.00</text><text x="1295" y="390">3,000.00</text><text x="1295" y="357">3,200.00</text><text x="1295" y="323">3,400.00</text><text x="1295" y="289">3,600.00</text><text x="1295" y="255">3,800.00</text><text x="1295" y="222">4,000.00</text><text x="1295" y="188">4,200.00</text><text x="1295" y="154">4,400.00</text><text x="1295" y="121">4,600.00</text><text x="1295" y="87">4,800.00</text><text x="1295" y="820.6">20.00</text><text x="1295" y="768.6">40.00</text><text x="1295" y="716.6">60.00</text><text x="1295" y="664.6">80.00</text></g><rect x="1290.5" y="31.5" width="57" height="25" rx="4" fill="#fff" stroke="#e0e3eb"/><text x="1299.3" y="48" font-size="12" fill="#131722" textLength="27" lengthAdjust="spacingAndGlyphs">USDT</text><g><path d="M1287,64 H1345 Q1347,64 1347,66 V78.6 Q1347,80.6 1345,80.6 H1287 Z" fill="#0000ff"/><text x="1295" y="75.9" font-size="12" fill="#fff" stroke="#fff" stroke-width="0.3">4,868.00</text><path d="M1287,505 H1345 Q1347,505 1347,507 V519 Q1347,521 1345,521 H1287 Z" fill="#0000ff"/><text x="1295" y="516.6" font-size="12" fill="#fff" stroke="#fff" stroke-width="0.3">2,200.00</text><path d="M1286,522 H1257 Q1255,522 1255,524 V536 Q1255,538 1257,538 H1286 Z" fill="#2962ff"/><text x="1260.4" y="533.6" font-size="12" fill="#fff" stroke="#fff" stroke-width="0.3" textLength="21.6" lengthAdjust="spacingAndGlyphs">EMA</text><path d="M1287,522 H1345 Q1347,522 1347,524 V536 Q1347,538 1345,538 H1287 Z" fill="#2962ff"/><text x="1295" y="533.6" font-size="12" fill="#fff" stroke="#fff" stroke-width="0.3">2,080.22</text><path d="M1286,539 H1230 Q1228,539 1228,541 V554 Q1228,556 1230,556 H1286 Z" fill="#ef5350"/><text x="1234.1" y="551.1" font-size="12" fill="#fff" stroke="#fff" stroke-width="0.3" textLength="47.9" lengthAdjust="spacingAndGlyphs">ETHUSDT</text><path d="M1287,539 H1345 Q1347,539 1347,541 V581 Q1347,583 1345,583 H1287 Z" fill="#ef5350"/><text x="1295" y="551.2" font-size="12" fill="#fff" stroke="#fff" stroke-width="0.3">2,047.92</text><text x="1295" y="564.8" font-size="12" fill="#fff" stroke="#fff" stroke-width="0.3" textLength="43.1" lengthAdjust="spacingAndGlyphs">−30.77%</text><text x="1295" y="578.6" font-size="12" fill="#fff" fill-opacity="0.8">10:03:00</text><path d="M1286,584 H1238 Q1236,584 1236,586 V598.8 Q1236,600.8 1238,600.8 H1286 Z" fill="#f23645"/><text x="1241.3" y="596.0" font-size="12" fill="#fff" stroke="#fff" stroke-width="0.3" textLength="40.7" lengthAdjust="spacingAndGlyphs">SMA:MA</text><path d="M1287,584 H1346.99 Q1347,584 1347,584.01 V600.79 Q1347,600.8 1346.99,600.8 H1287 Z" fill="#f23645"/><text x="1295" y="596.0" font-size="12" fill="#fff" stroke="#fff" stroke-width="0.3">2,046.51</text><g clip-path="url(#axclip)"><rect x="1287" y="600.8" width="60" height="30" fill="#0000ff"/><text x="1295" y="612.8" font-size="12" fill="#fff" stroke="#fff" stroke-width="0.3">1,916.00</text><text x="1295" y="630.6" font-size="12" fill="#fff" stroke="#fff" stroke-width="0.3">1,750.00</text></g><path d="M1286,721 H1209 Q1207,721 1207,723 V735.6 Q1207,737.6 1209,737.6 H1286 Z" fill="#fdd835"/><text x="1211.3" y="733.8" font-size="12" fill="#131722" textLength="70.7" lengthAdjust="spacingAndGlyphs">RSI-based MA</text><path d="M1287,721 H1328 Q1330,721 1330,723 V735.6 Q1330,737.6 1328,737.6 H1287 Z" fill="#fdd835"/><text x="1295" y="733.8" font-size="12" fill="#131722">47.91</text><path d="M1286,737.6 H1263 Q1261,737.6 1261,739.6 V752.5 Q1261,754.5 1263,754.5 H1286 Z" fill="#7e57c2"/><text x="1266.0" y="750.5" font-size="12" fill="#fff" stroke="#fff" stroke-width="0.3" textLength="16" lengthAdjust="spacingAndGlyphs">RSI</text><path d="M1287,737.6 H1328 Q1330,737.6 1330,739.6 V752.5 Q1330,754.5 1328,754.5 H1287 Z" fill="#7e57c2"/><text x="1295" y="750.5" font-size="12" fill="#fff" stroke="#fff" stroke-width="0.3">47.04</text></g><rect x="1287" y="629" width="65" height="1" fill="#e0e3eb"/><g font-size="12" fill="#131722"><text x="102.5" y="849" text-anchor="middle">Aug</text><text x="239.5" y="849" text-anchor="middle">Sep</text><text x="372.5" y="849" text-anchor="middle">Oct</text><text x="509.5" y="849" text-anchor="middle">Nov</text><text x="642.5" y="849" text-anchor="middle">Dec</text><text x="780.5" y="849" text-anchor="middle" font-weight="bold">2026</text><text x="917.5" y="849" text-anchor="middle">Feb</text><text x="1041.5" y="849" text-anchor="middle">Mar</text><text x="1179.5" y="849" text-anchor="middle">Apr</text></g><g transform="translate(-0.3,0.5)"><circle cx="1188.9" cy="615.9" r="10" fill="#fff"/><g fill="none" stroke="#9c27b0" stroke-width="1.6"><path d="M1191.3,606.8 A9.7,9.7 0 1 0 1198.2,613.6" stroke-linecap="round"/></g><path d="M1191,611 L1184.5,617 L1188,617 L1185.3,622 L1192.5,616 L1189,616 Z" fill="#9c27b0"/></g><circle cx="1195.4" cy="609.5" r="2.5" fill="#f23645"/><g fill="#131722"><path d="M12,881 H24.3 V896 H18 V888 H12 Z"/><circle cx="29.6" cy="883.9" r="2.8"/><path d="M34,881 H41.8 L36,896 H28.6 Z"/></g><text x="49.3" y="896" font-size="20" font-weight="bold" fill="#131722" letter-spacing="0.25">TradingView</text></svg></body></html>
